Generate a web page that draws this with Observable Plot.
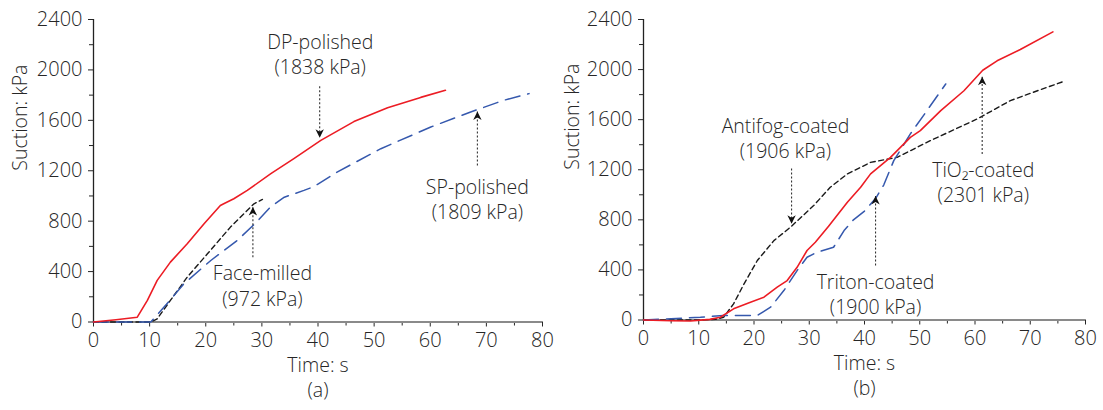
<!DOCTYPE html>
<html><head><meta charset="utf-8">
<script src="https://cdn.jsdelivr.net/npm/d3@7"></script>
<script src="https://cdn.jsdelivr.net/npm/@observablehq/plot@0.6"></script>
<style>
body{margin:0;background:#fff;}
#wrap{display:flex;width:1103px;height:410px;}
</style></head><body><div id="wrap"></div><script>
// ---------- Panel (a) ----------
const dpTime    = [0, 4, 7.8, 9.6, 11.35, 13.7, 16.7, 19.7, 22.6, 23.2, 25, 27.4, 31.6, 35.7, 40.5, 46.4, 52.4, 58.3, 62.7];
const dpSuction = [0, 18, 38, 171, 330, 475, 621, 780, 925, 938, 978, 1044, 1177, 1296, 1441, 1590, 1700, 1782, 1838];
const spTime    = [0, 10.2, 13, 16.1, 20.9, 25.6, 29, 31.6, 34, 37.5, 39.3, 43.4, 51.2, 60.1, 67.2, 73.1, 77.6];
const spSuction = [0, 0, 140, 303, 488, 647, 790, 915, 990, 1044, 1075, 1189, 1375, 1547, 1666, 1759, 1812];
const fmTime    = [0, 10.2, 11.35, 13.7, 16.7, 20.3, 24.4, 28.6, 30.1];
const fmSuction = [0, 0, 25, 171, 356, 541, 753, 938, 972];
// ---------- Panel (b) ----------
const tiTime    = [0, 5, 8.5, 12, 13.9, 16.3, 19, 21.8, 24.2, 26, 27.8, 29.6, 31.1, 33.5, 36.9, 39.3, 41.1, 44.7, 48.3, 50.1, 53.8, 58, 61.4, 64, 68.2, 74.1];
const tiSuction = [0, -6, -8, 5, 22, 89, 135, 182, 262, 315, 421, 555, 621, 748, 940, 1060, 1167, 1299, 1459, 1512, 1672, 1831, 1995, 2070, 2160, 2301];
const afTime    = [0, 10, 13, 14.5, 16.3, 18.2, 20.6, 23.6, 26.6, 30.8, 33.8, 36.9, 41.1, 45.9, 51.9, 60.4, 66.4, 71.3, 76.1];
const afSuction = [0, 0, 5, 22, 129, 289, 475, 634, 741, 914, 1060, 1167, 1259, 1299, 1432, 1606, 1752, 1831, 1906];
const trTime    = [0, 5, 10.3, 14.5, 20.6, 23, 25.4, 27.8, 29.6, 31.4, 34.4, 36.3, 38, 40, 42, 43.5, 45.3, 48.3, 51.3, 54.7];
const trSuction = [0, 10, 22, 36, 36, 102, 235, 395, 501, 541, 581, 714, 800, 870, 970, 1080, 1273, 1486, 1672, 1885];

// Annotation labels
const labelsA = ["DP-polished\n(1838 kPa)", "SP-polished\n(1809 kPa)", "Face-milled\n(972 kPa)"];
const labelXA = [40.4, 68.4, 30.1];
const labelYA = [2132, 981, 294];
const arrowXA = [40.3, 68.4, 28.4];
const arrowFromA = [1870, 1242, 514];
const arrowToA = [1462, 1671, 912];

const labelsB = ["Antifog-coated\n(1906 kPa)", "TiO₂-coated\n(2301 kPa)", "Triton-coated\n(1900 kPa)"];
const labelXB = [25.7, 61.5, 42];
const labelYB = [1456, 1109, 211];
const arrowXB = [26.8, 61.3, 42];
const arrowFromB = [1209, 1326, 435];
const arrowToB = [768, 1943, 990];

const xTicks = [0, 10, 20, 30, 40, 50, 60, 70, 80];
const yTicks = [0, 400, 800, 1200, 1600, 2000, 2400];

const toRows = (t, s) => t.map((v, i) => ({t: v, s: s[i]}));
const RED = "#ec1c24", BLUE = "#3558ad", BLACK = "#1a1a1a", INK = "#262626";

const headUp = {draw(c) { c.moveTo(0, 0); c.lineTo(4.2, 8.5); c.lineTo(0, 6); c.lineTo(-4.2, 8.5); c.closePath(); }};
const headDown = {draw(c) { c.moveTo(0, 0); c.lineTo(4.2, -8.5); c.lineTo(0, -6); c.lineTo(-4.2, -8.5); c.closePath(); }};

function panel(o) {
  const notes = o.labels.map((l, i) => ({l, x: o.lx[i], y: o.ly[i]}));
  const arrows = o.ax.map((x, i) => ({x, y1: o.af[i], y2: o.at[i]}));
  return Plot.plot({
    width: o.width, height: 410,
    marginLeft: o.ml, marginRight: o.mr, marginTop: 19, marginBottom: o.mb,
    style: {fontFamily: "'Open Sans', sans-serif", fontSize: "20px", fontWeight: 300, color: INK, background: "transparent", overflow: "visible"},
    x: {domain: [0, 80]},
    y: {domain: [0, 2400]},
    marks: [
      Plot.axisY({ticks: yTicks, tickSize: 5, tickPadding: 6, label: null, fontSize: 20, tickFormat: d => String(d)}),
      Plot.axisY({ticks: d3.range(200, 2400, 400), tickSize: 4, tickFormat: () => "", label: null}),
      Plot.axisX({ticks: xTicks, tickSize: 5, tickPadding: 6, label: null, fontSize: 20, tickFormat: d => String(d)}),
      Plot.axisX({ticks: d3.range(5, 80, 10), tickSize: 4, tickFormat: () => "", label: null}),
      Plot.ruleY([0], {stroke: "#8a8a8a", strokeWidth: 2}),
      Plot.ruleX([0], {stroke: "#222", strokeWidth: 1.3}),
      ...o.series.map(sr => Plot.line(toRows(sr.t, sr.s), {x: "t", y: "s", stroke: sr.color, strokeWidth: sr.w, strokeDasharray: sr.dash})),
      Plot.link(arrows, {x1: "x", x2: "x", y1: "y1", y2: "y2", stroke: "#333", strokeWidth: 1.1, strokeDasharray: "2,2"}),
      Plot.dot(arrows.filter(a => a.y2 > a.y1), {x: "x", y: "y2", symbol: headUp, fill: "#111", stroke: "none"}),
      Plot.dot(arrows.filter(a => a.y2 < a.y1), {x: "x", y: "y2", symbol: headDown, fill: "#111", stroke: "none"}),
      Plot.text(notes, {x: "x", y: "y", text: "l", fontSize: 19.5, lineHeight: 1.3, fill: INK}),
      Plot.text(["Suction: kPa"], {frameAnchor: "left", dx: o.ylabDx, rotate: -90, fontSize: 19.5, fill: INK}),
      Plot.text(["Time: s"], {frameAnchor: "bottom", dy: 50, fontSize: 19.5, fill: INK}),
      Plot.text([o.tag], {frameAnchor: "bottom", dy: 75, fontSize: 19.5, fill: INK})
    ]
  });
}

const wrap = document.getElementById("wrap");
wrap.append(panel({
  width: 551, ml: 93, mr: 9, mb: 88.5, ylabDx: -73, tag: "(a)",
  series: [
    {t: fmTime, s: fmSuction, color: BLACK, w: 1.4, dash: "5,3.5"},
    {t: spTime, s: spSuction, color: BLUE, w: 1.5, dash: "15,8"},
    {t: dpTime, s: dpSuction, color: RED, w: 1.6, dash: null}
  ],
  labels: labelsA, lx: labelXA, ly: labelYA, ax: arrowXA, af: arrowFromA, at: arrowToA
}));
wrap.append(panel({
  width: 552, ml: 92, mr: 18, mb: 90.5, ylabDx: -71, tag: "(b)",
  series: [
    {t: afTime, s: afSuction, color: BLACK, w: 1.4, dash: "5,3.5"},
    {t: trTime, s: trSuction, color: BLUE, w: 1.5, dash: "15,8"},
    {t: tiTime, s: tiSuction, color: RED, w: 1.6, dash: null}
  ],
  labels: labelsB, lx: labelXB, ly: labelYB, ax: arrowXB, af: arrowFromB, at: arrowToB
}));
</script></body></html>
